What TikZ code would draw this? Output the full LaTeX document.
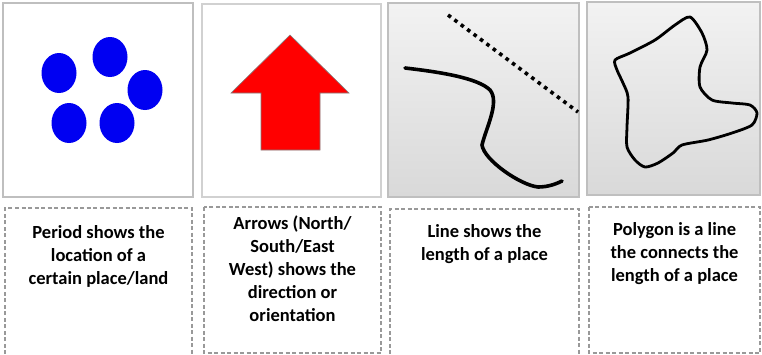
\documentclass[tikz,border=0pt]{standalone}
\usepackage{fontspec}
\setmainfont{Carlito}
\usetikzlibrary{calc}

\begin{document}
\begin{tikzpicture}[
  x=1pt, y=-1pt,
  panel/.style={draw=black!25, line width=1.8pt},
  shadedpanel/.style={panel, top color=black!5, bottom color=black!15},
  notebox/.style={draw=black!40, line width=1.1pt, dash pattern=on 4pt off 2.5pt},
  caption/.style={font=\bfseries\fontsize{18.5}{23}\selectfont, align=center,
    anchor=north, inner sep=0pt, text=black},
  dot/.style={fill=blue!95!black}
]
\useasboundingbox (0,0) rectangle (762,354);

% --- 1. Points ---
\draw[panel, fill=white] (3,3) rectangle (193,197);
\foreach \x/\y in {59/73, 110/57, 145/90, 69/123, 117/123}
  \fill[dot] (\x,\y) ellipse (17.5 and 20);

% --- 2. Fleche ---
\draw[panel, draw=black!18, fill=white] (202,4) rectangle (381,197);
\draw[fill=red, draw=black!50, line width=0.6pt]
  (290,35) -- (349,93) -- (320,93) -- (320,150) -- (261,150) -- (261,93) -- (231,93) -- cycle;

% --- 3. Ligne ---
\draw[shadedpanel] (388,3) rectangle (579,197);
\draw[line width=3.6pt, dash pattern=on 3.6pt off 4.4pt] (448,15) -- (578,112);
\draw[line width=3.6pt, line cap=round]
  (405,68) .. controls (440,72) and (478,78) .. (490,90)
  .. controls (500,102) and (486,128) .. (482,145)
  .. controls (484,160) and (520,185) .. (538,187)
  .. controls (548,187) and (556,184) .. (562,181);

% --- 4. Polygone ---
\draw[shadedpanel] (587,2) rectangle (760,195);
\draw[line width=2.8pt, line join=round]
  plot[smooth cycle, tension=0.45] coordinates {
    (615,60) (630,53) (655,40) (675,25) (690,17) (702,33) (707,50)
    (700,67) (700,87) (712,100) (732,103) (750,105) (757,113)
    (752,125) (732,133) (708,140) (682,145) (673,153) (658,163)
    (645,167) (635,160) (627,147) (627,127) (628,97) (623,83) (617,70)
  };

% --- Legendes ---
\draw[notebox] (5,354) -- (5,208) -- (192,208) -- (192,354);
\draw[notebox] (204,207) rectangle (381,353);
\draw[notebox] (390,354) -- (390,209) -- (579,209) -- (579,354);
\draw[notebox] (589,207) rectangle (760,353);

\node[caption] (periodtxt) at (98.5,225) {Period shows the\\location of a\\certain place/land};
\node[caption] (arrowtxt) at (292.5,216) {Arrows (North/\\South/East\\West) shows the\\direction or\\orientation};
\node[caption] (linetxt) at (484.5,224) {Line shows the\\length of a place};
\node[caption] (polytxt) at (674.5,222) {Polygon is a line\\the connects the\\length of a place};

\end{tikzpicture}
\end{document}
